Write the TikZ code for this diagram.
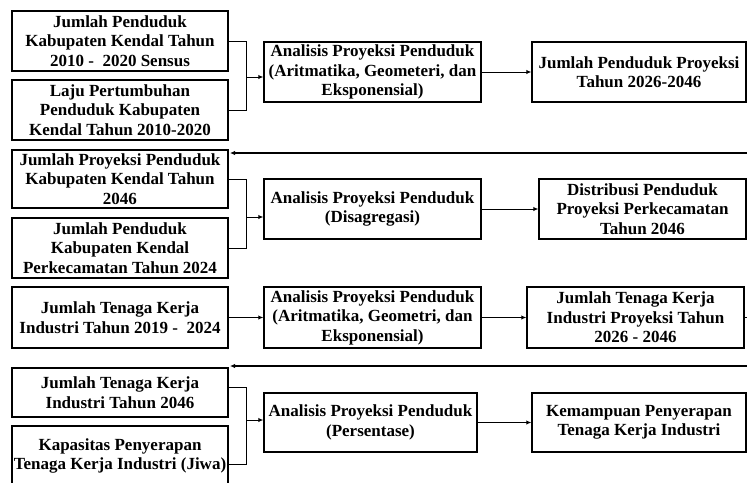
\documentclass[tikz,border=0pt]{standalone}
\usepackage{fontspec}
\setmainfont{Liberation Serif}
\usetikzlibrary{arrows.meta}
\begin{document}
\begin{tikzpicture}[x=1pt,y=-1pt,
  box/.style={draw, line width=1.4pt, rectangle, align=center, inner sep=0pt,
    font=\bfseries\fontsize{17}{19.5}\selectfont},
  conn/.style={line width=1pt},
  arr/.style={line width=1pt, -{Latex[length=5pt,width=4.5pt]}},
  fb/.style={line width=1.4pt, -{Latex[length=5pt,width=4.5pt]}},
]
\useasboundingbox (0,0) rectangle (747,482);
% Row 1
\node[box, minimum width=216pt, minimum height=60pt] (a1) at (120,41)
  {Jumlah Penduduk\\Kabupaten Kendal Tahun\\2010 -\ \ 2020 Sensus};
\node[box, minimum width=216pt, minimum height=60pt] (a2) at (120,110)
  {Laju Pertumbuhan\\Penduduk Kabupaten\\Kendal Tahun 2010-2020};
\node[box, minimum width=217pt, minimum height=60pt] (b1) at (372.5,72)
  {Analisis Proyeksi Penduduk\\(Aritmatika, Geometeri, dan\\Eksponensial)};
\node[box, minimum width=214pt, minimum height=60pt] (c1) at (639,72)
  {Jumlah Penduduk Proyeksi\\Tahun 2026-2046};
\coordinate (ja) at (246,77);
\draw[conn] (a1.east) -| (ja);
\draw[conn] (a2.east) -| (ja);
\draw[arr] (ja) -- (ja -| b1.west);
\draw[arr] (b1.east) -- (c1.west);
\coordinate (r1) at (747,153);
\coordinate (t1) at (230,153);
\draw[fb] (r1) -- (t1);
% Row 2
\node[box, minimum width=216pt, minimum height=58pt] (d1) at (120,179)
  {Jumlah Proyeksi Penduduk\\Kabupaten Kendal Tahun\\2046};
\node[box, minimum width=216pt, minimum height=60pt] (d2) at (120,248)
  {Jumlah Penduduk\\Kabupaten Kendal\\Perkecamatan Tahun 2024};
\node[box, minimum width=217pt, minimum height=60pt] (e1) at (372.5,209)
  {Analisis Proyeksi Penduduk\\(Disagregasi)};
\node[box, minimum width=207pt, minimum height=60pt] (f1) at (642.5,209)
  {Distribusi Penduduk\\Proyeksi Perkecamatan\\Tahun 2046};
\coordinate (jd) at (246,217);
\draw[conn] (d1.east) -| (jd);
\draw[conn] (d2.east) -| (jd);
\draw[arr] (jd) -- (jd -| e1.west);
\draw[arr] (e1.east) -- (f1.west);
% Row 3
\node[box, minimum width=216pt, minimum height=61pt] (g1) at (120,317.5)
  {Jumlah Tenaga Kerja\\Industri Tahun 2019 -\ \ 2024};
\node[box, minimum width=217pt, minimum height=61pt] (h1) at (372.5,317.5)
  {Analisis Proyeksi Penduduk\\(Aritmatika, Geometri, dan\\Eksponensial)};
\node[box, minimum width=217pt, minimum height=61pt] (i1) at (635.5,317.5)
  {Jumlah Tenaga Kerja\\Industri Proyeksi Tahun\\2026 - 2046};
\draw[arr] (g1.east) -- (h1.west);
\draw[arr] (h1.east) -- (i1.west);
\coordinate (r3) at (747,317.5);
\draw[conn] (i1.east) -- (r3);
\coordinate (r2) at (747,366);
\coordinate (t2) at (230,366);
\draw[fb] (r2) -- (t2);
% Row 4
\node[box, minimum width=216pt, minimum height=49pt] (j1) at (120,392.5)
  {Jumlah Tenaga Kerja\\Industri Tahun 2046};
\node[box, minimum width=216pt, minimum height=60pt] (j2) at (120,456)
  {Kapasitas Penyerapan\\Tenaga Kerja Industri (Jiwa)};
\node[box, minimum width=213pt, minimum height=59pt] (k1) at (370.5,422.5)
  {Analisis Proyeksi Penduduk\\(Persentase)};
\node[box, minimum width=214pt, minimum height=59pt] (l1) at (639,422.5)
  {Kemampuan Penyerapan\\Tenaga Kerja Industri};
\coordinate (jj) at (246,420);
\draw[conn] ([yshift=5pt]j1.east) -| (jj);
\draw[conn] ([yshift=-8pt]j2.east) -| (jj);
\draw[arr] (jj) -- (jj -| k1.west);
\draw[arr] (k1.east) -- (l1.west);
\end{tikzpicture}
\end{document}
